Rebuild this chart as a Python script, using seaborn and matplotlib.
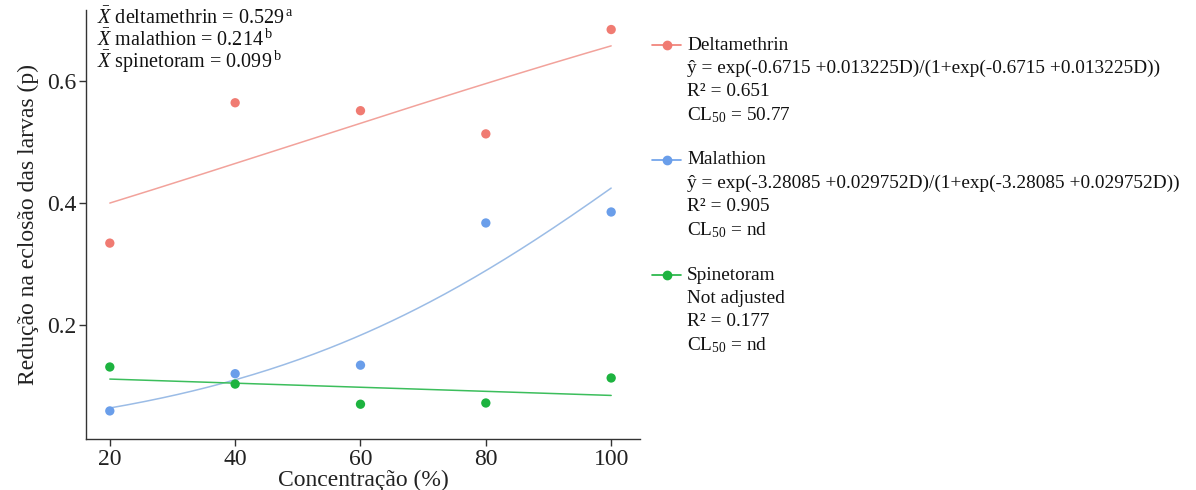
import numpy as np
import pandas as pd
import matplotlib
matplotlib.use("Agg")
import matplotlib.pyplot as plt
import seaborn as sns
from matplotlib.lines import Line2D

conc = [20, 40, 60, 80, 100]
deltamethrin = [0.334, 0.564, 0.551, 0.513, 0.684]
malathion = [0.059, 0.120, 0.134, 0.367, 0.385]
spinetoram = [0.131, 0.103, 0.070, 0.072, 0.113]

series_names = ["Deltamethrin", "Malathion", "Spinetoram"]
point_colors = ["#F07B72", "#6A9EEA", "#1DB33F"]
line_colors = ["#F2A29B", "#9BBCE6", "#3CBE5C"]

# logistic model coefficients (from legend)
coef_delta = (-0.6715, 0.013225)
coef_mala = (-3.28085, 0.029752)

legend_lines = [
    ["Deltamethrin",
     "ŷ = exp(-0.6715 +0.013225D)/(1+exp(-0.6715 +0.013225D))",
     "R² = 0.651",
     "CL$_{50}$ = 50.77"],
    ["Malathion",
     "ŷ = exp(-3.28085 +0.029752D)/(1+exp(-3.28085 +0.029752D))",
     "R² = 0.905",
     "CL$_{50}$ = nd"],
    ["Spinetoram",
     "Not adjusted",
     "R² = 0.177",
     "CL$_{50}$ = nd"],
]
mean_lines = [
    r"$\bar{X}$ deltamethrin = 0.529$\,^{\rm a}$",
    r"$\bar{X}$ malathion = 0.214$\,^{\rm b}$",
    r"$\bar{X}$ spinetoram = 0.099$\,^{\rm b}$",
]

sns.set_theme(style="ticks")
plt.rcParams["font.family"] = ["Liberation Serif", "DejaVu Serif"]
plt.rcParams["mathtext.fontset"] = "custom"
plt.rcParams["mathtext.rm"] = "Liberation Serif"
plt.rcParams["mathtext.it"] = "Liberation Serif:italic"
plt.rcParams["mathtext.bf"] = "Liberation Serif:bold"

fig = plt.figure(figsize=(11.96, 4.9), dpi=100)
ax = fig.add_axes([86 / 1196, 51 / 490, (640 - 86) / 1196, (439 - 10) / 490])

df = pd.DataFrame({
    "conc": conc * 3,
    "value": deltamethrin + malathion + spinetoram,
    "series": sum([[n] * 5 for n in series_names], []),
})

# fitted curves
dgrid = np.linspace(20, 100, 200)
def logistic(c, d):
    z = c[0] + c[1] * d
    return np.exp(z) / (1 + np.exp(z))

fit_df = pd.DataFrame({
    "conc": np.concatenate([dgrid, dgrid]),
    "value": np.concatenate([logistic(coef_delta, dgrid), logistic(coef_mala, dgrid)]),
    "series": ["Deltamethrin"] * len(dgrid) + ["Malathion"] * len(dgrid),
})
sns.lineplot(data=fit_df, x="conc", y="value", hue="series",
             palette=dict(zip(series_names[:2], line_colors[:2])),
             linewidth=1.1, legend=False, ax=ax)
sns.regplot(x=conc, y=spinetoram, scatter=False, ci=None, truncate=True,
            color=line_colors[2], line_kws={"linewidth": 1.1}, ax=ax)

sns.scatterplot(data=df, x="conc", y="value", hue="series",
                palette=dict(zip(series_names, point_colors)),
                s=45, edgecolor="none", legend=False, ax=ax, zorder=5)

ax.set_xlim(16.2, 104.6)
ax.set_ylim(0.013, 0.716)
ax.set_xticks([20, 40, 60, 80, 100])
ax.set_yticks([0.2, 0.4, 0.6])
ax.set_yticklabels(["0.2", "0.4", "0.6"])
ax.tick_params(axis="both", labelsize=17, length=5, width=1, color="#333333",
               labelcolor="#222222", pad=2)
ax.set_xlabel("Concentração (%)", fontsize=17, color="#222222", labelpad=0)
ax.set_ylabel("Redução na eclosão das larvas (p)", fontsize=17, color="#222222", labelpad=6)
for s in ["left", "bottom"]:
    ax.spines[s].set_color("#333333")
    ax.spines[s].set_linewidth(1.0)
sns.despine(ax=ax)

# means annotation
for i, t in enumerate(mean_lines):
    ax.text(97 / 1196, 1 - (18 + 22 * i) / 490, t, transform=fig.transFigure,
            fontsize=14.5, va="center", ha="left", color="#111111")

# custom legend
starts = [45, 160, 275]
for k in range(3):
    y0 = starts[k]
    fy = 1 - y0 / 490
    fig.add_artist(Line2D([652 / 1196, 681 / 1196], [fy, fy], color=point_colors[k],
                          linewidth=1.2, transform=fig.transFigure))
    fig.add_artist(Line2D([666.5 / 1196], [fy], color=point_colors[k], marker="o",
                          markersize=6, linestyle="none", transform=fig.transFigure))
    for j, t in enumerate(legend_lines[k]):
        fig.text(687 / 1196, 1 - (y0 + 23.3 * j) / 490, t, fontsize=13.9,
                 va="center", ha="left", color="#111111")

fig.savefig("out.png", dpi=100)
